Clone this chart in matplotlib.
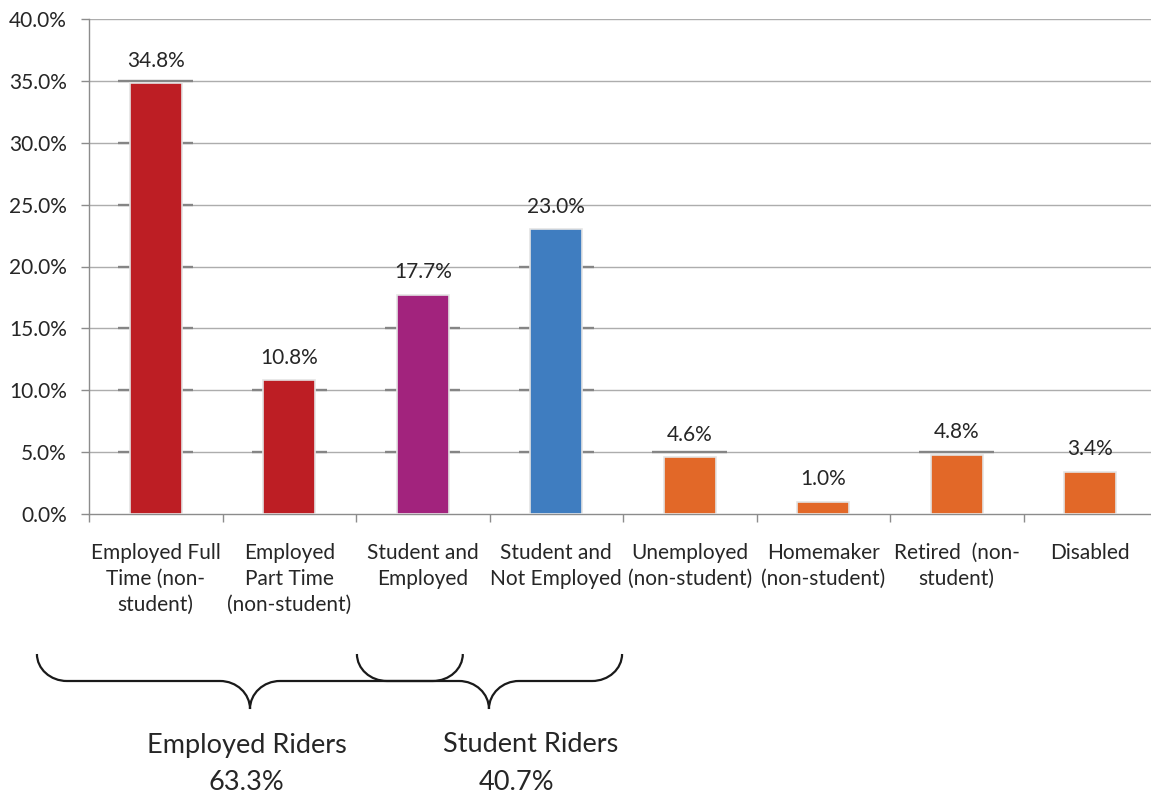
import matplotlib
matplotlib.use("Agg")
import matplotlib.pyplot as plt
from matplotlib.path import Path
from matplotlib.patches import PathPatch
from matplotlib.transforms import IdentityTransform

plt.rcParams['font.family'] = ['Lato', 'DejaVu Sans']

# Data
categories = ['Employed Full\nTime (non-\nstudent)', 'Employed\nPart Time\n(non-student)',
              'Student and\nEmployed', 'Student and\nNot Employed',
              'Unemployed\n(non-student)', 'Homemaker\n(non-student)',
              'Retired  (non-\nstudent)', 'Disabled']
shares = [34.8, 10.8, 17.7, 23.0, 4.6, 1.0, 4.8, 3.4]
bar_colors = ['#BD1E24', '#BD1E24', '#A2237D', '#3F7DC0',
              '#E26828', '#E26828', '#E26828', '#E26828']
yticks = [0, 5, 10, 15, 20, 25, 30, 35, 40]

# Brace groups (span in category units, tip position)
group_names = ['Employed Riders', 'Student Riders']
group_shares = ['63.3%', '40.7%']
group_spans = [(-0.89, 2.30), (1.507, 3.493)]
group_tips = [0.706, 2.496]
group_name_x = [0.683, 2.811]
group_share_x = [0.676, 2.706]

W, H = 1151, 797
fig = plt.figure(figsize=(W / 100, H / 100), dpi=100)
ax = fig.add_axes([89 / W, (H - 514) / H, (1157 - 89) / W, 495 / H])

x = list(range(len(categories)))
ax.set_xlim(-0.5, len(categories) - 0.5)
ax.set_ylim(0, 40)

grid_c = '#ADADAD'
for g in yticks[1:]:
    ax.axhline(g, color=grid_c, lw=1, zorder=1)
    # darker gridline pieces where the bar shadow sits
    for xi, v in zip(x, shares):
        if g <= v + 0.5:
            ax.plot([xi - 0.28, xi + 0.28], [g, g], color='#858585', lw=1.7,
                    zorder=1.5, solid_capstyle='butt')

bars = ax.bar(x, shares, width=0.39, color=bar_colors, edgecolor='#E4E4E4',
              linewidth=1.2, zorder=3)
for xi, v in zip(x, shares):
    ax.annotate(f'{v:.1f}%', (xi, v), xytext=(0, 9), textcoords='offset points',
                ha='center', va='bottom', fontsize=15, color='#262626', zorder=4)

ax.set_yticks(yticks)
ax.set_yticklabels([f'{t:.1f}%' for t in yticks], fontsize=15, color='#262626')
ax.tick_params(axis='y', length=6, width=1, color='#8C8C8C', pad=10)

ax.set_xticks(x)
ax.set_xticklabels(categories, fontsize=15, color='#262626', linespacing=1.38)
ax.set_xticks([i - 0.5 for i in range(len(categories) + 1)], minor=True)
ax.tick_params(axis='x', which='major', length=0, pad=21)
ax.tick_params(axis='x', which='minor', length=6, width=1, color='#8C8C8C')

for s in ['top', 'right']:
    ax.spines[s].set_visible(False)
for s in ['left', 'bottom']:
    ax.spines[s].set_color('#8C8C8C')
    ax.spines[s].set_linewidth(1)


def brace(x0, x1, xt, ytop=143, yh=116, ytip=88, r=30, rt=30):
    # x values in category units, y in pixels from the bottom
    px0 = ax.transData.transform((x0, 0))[0]
    px1 = ax.transData.transform((x1, 0))[0]
    pxt = ax.transData.transform((xt, 0))[0]
    k = 0.552
    dy = ytop - yh
    dt = yh - ytip
    verts = [(px0, ytop),
             (px0, ytop - k * dy), (px0 + r - k * r, yh), (px0 + r, yh),
             (pxt - rt, yh),
             (pxt - rt + k * rt, yh), (pxt, ytip + k * dt), (pxt, ytip),
             (pxt, ytip + k * dt), (pxt + rt - k * rt, yh), (pxt + rt, yh),
             (px1 - r, yh),
             (px1 - r + k * r, yh), (px1, ytop - k * dy), (px1, ytop)]
    codes = [Path.MOVETO,
             Path.CURVE4, Path.CURVE4, Path.CURVE4,
             Path.LINETO,
             Path.CURVE4, Path.CURVE4, Path.CURVE4,
             Path.CURVE4, Path.CURVE4, Path.CURVE4,
             Path.LINETO,
             Path.CURVE4, Path.CURVE4, Path.CURVE4]
    patch = PathPatch(Path(verts, codes), facecolor='none', edgecolor='#1A1A1A',
                      lw=1.6, transform=IdentityTransform())
    fig.add_artist(patch)


for (x0, x1), xt in zip(group_spans, group_tips):
    brace(x0, x1, xt)

for name, share, nx, sx in zip(group_names, group_shares, group_name_x, group_share_x):
    px = ax.transData.transform((nx, 0))[0] / W
    sxp = ax.transData.transform((sx, 0))[0] / W
    fig.text(px, (H - 745) / H, name, ha='center', va='center', fontsize=19.5, color='#262626')
    fig.text(sxp, (H - 782) / H, share, ha='center', va='center', fontsize=19.5, color='#262626')

fig.savefig('out.png', dpi=100)
